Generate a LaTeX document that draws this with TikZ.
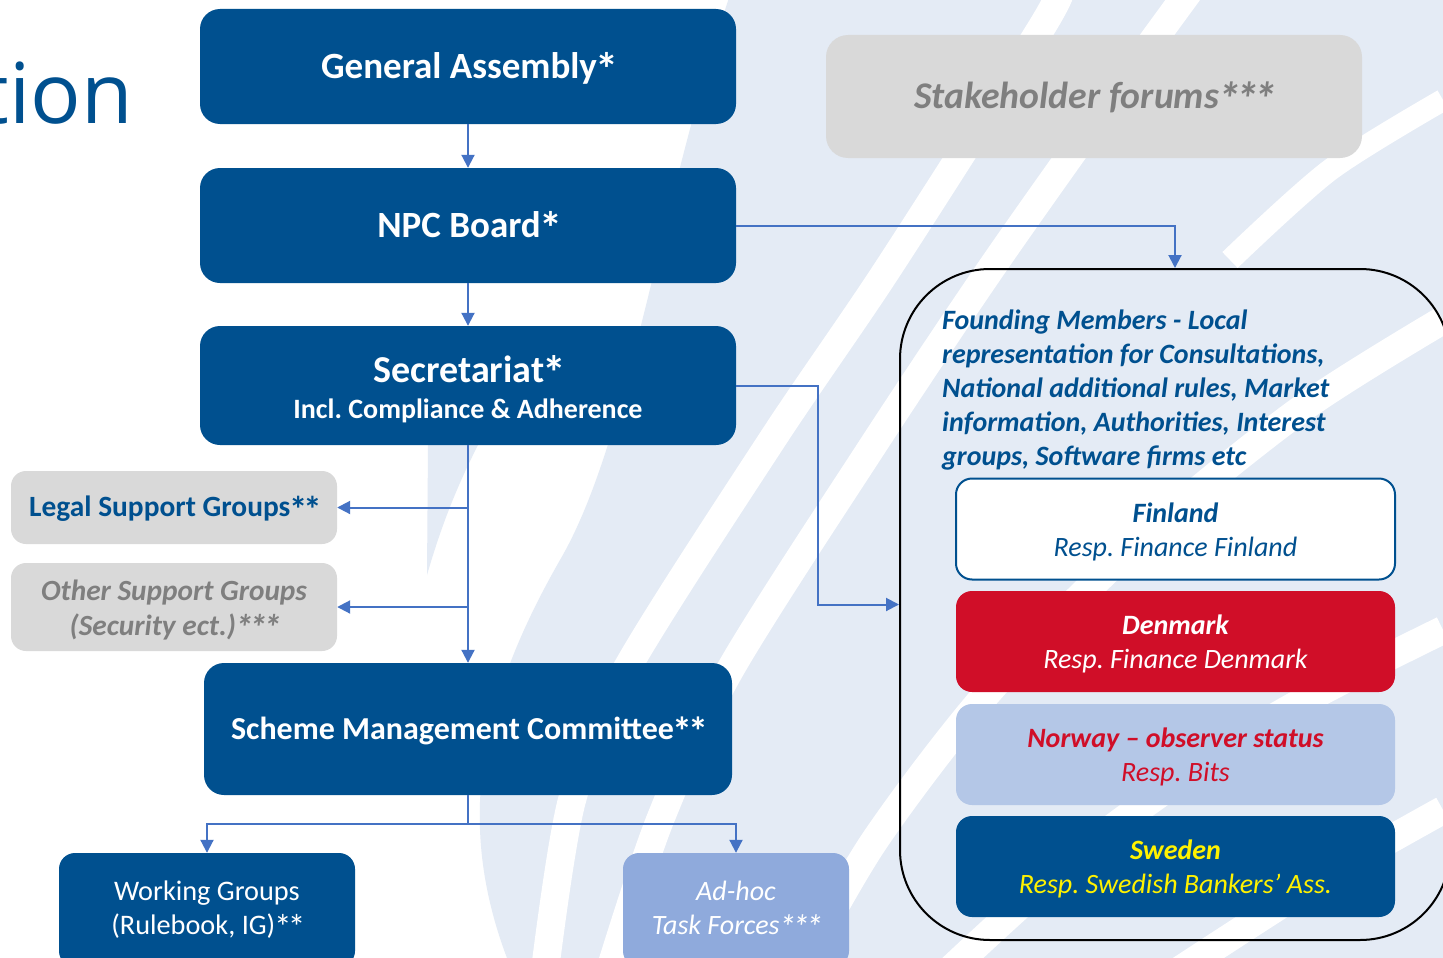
\documentclass[tikz,border=0pt]{standalone}
\usepackage{fontspec}
\usepackage{graphicx}
\setmainfont{Carlito}
\newfontfamily\headfont{Open Sans}
\usetikzlibrary{arrows.meta}
\frenchspacing

\definecolor{npcblue}{RGB}{0,80,143}
\definecolor{linkblue}{RGB}{68,114,196}
\definecolor{boxgrey}{RGB}{217,217,217}
\definecolor{textgrey}{RGB}{127,127,127}
\definecolor{dkred}{RGB}{208,14,40}
\definecolor{paleblue}{RGB}{180,199,231}
\definecolor{adhocblue}{RGB}{143,170,220}
\definecolor{bgblue}{RGB}{228,235,245}

\def \titleSize {\fontsize{37}{40}\selectfont}
\def \smallSize {\fontsize{28}{34}\selectfont}
\newcommand{\fnstar}{\kern-0.04em\raisebox{-0.2em}{\scalebox{1.25}{*}}\kern-0.1em}

\tikzset{
  mainbox/.style={rounded corners=20, fill=npcblue, text=white, inner sep=0,
    minimum width=536, minimum height=115, align=center, font=\bfseries\titleSize,
    text height=23.4, text depth=0},
  greybox/.style={rounded corners=15, fill=boxgrey, inner sep=0,
    minimum width=326, align=center, font=\bfseries\fontsize{29.4}{35}\selectfont},
  country/.style={rounded corners=16, inner sep=0, minimum width=439,
    minimum height=101, align=center, font=\itshape\smallSize,
    text height=54, text depth=0},
  subbox/.style={rounded corners=16, inner sep=0, minimum width=296,
    minimum height=114, align=center, text=white, font=\fontsize{28.3}{34}\selectfont,
    text height=48, text depth=0},
  link/.style={draw=linkblue, line width=2, -{Triangle[length=13,width=13]}},
  stripe/.style={white, line width=28},
}

\begin{document}
\begin{tikzpicture}[x=1pt,y=-1pt]
  \clip (0,0) rectangle (1443,958);
  \fill[white] (0,0) rectangle (1443,958);

  \fill[bgblue] (507,958) .. controls (455,820) and (480,700) .. (560,560)
    .. controls (630,440) and (660,200) .. (730,-5) -- (1443,-5) -- (1443,958) -- cycle;
  \fill[bgblue] (427,575) -- (428,445) -- (478,445) .. controls (455,490) and (440,530) .. (427,575);
  \draw[stripe] plot[smooth] coordinates {(545,970) (572,800) (626,670) (772,440) (887,270) (1040,30) (1060,-10)};
  \draw[stripe] plot[smooth] coordinates {(610,970) (660,820) (730,670) (870,450) (990,270) (1110,100) (1190,-10)};
  \draw[stripe] plot[smooth] coordinates {(800,970) (875,840) (990,690) (1140,540) (1300,410) (1443,320)};
  \draw[stripe] plot[smooth] coordinates {(950,970) (1090,845) (1270,720) (1443,630)};
  \draw[stripe] plot[smooth] coordinates {(1180,970) (1320,880) (1443,810)};
  \draw[stripe, line width=22] plot[smooth] coordinates {(1230,260) (1330,170) (1443,100)};

  \node[anchor=base east, inner sep=0, text=npcblue, font=\headfont\fontsize{84}{90}\selectfont] (title) at (133,123) {tion};

  \node[mainbox] (ga) at (468,66.5) {General Assembly\fnstar};
  \node[mainbox] (npc) at (468,225.5) {NPC Board\fnstar};
  \node[mainbox, minimum height=119, font=\bfseries\fontsize{38}{36}\selectfont, text height=65, text depth=0]
    (sec) at (468,385.5) {Secretariat\fnstar\\{\fontsize{28}{36}\selectfont Incl. Compliance \& Adherence}};
  \node[mainbox, minimum width=528, minimum height=132, font=\bfseries\fontsize{32}{38}\selectfont, text height=20.2]
    (smc) at (468,729) {Scheme Management Committee\fnstar\fnstar};

  \node[greybox, minimum width=536, minimum height=123, rounded corners=22, text=textgrey,
    font=\bfseries\itshape\fontsize{37.7}{40}\selectfont, text height=23.8, text depth=0]
    (stake) at (1094,96.5) {Stakeholder forums\fnstar\fnstar\fnstar};
  \node[greybox, minimum height=73, text=npcblue, text height=18.6, text depth=0]
    (legal) at (174,507.5) {Legal Support Groups\fnstar\fnstar};
  \node[greybox, minimum height=88, text=textgrey, font=\bfseries\itshape\fontsize{29.3}{35}\selectfont,
    text height=56, text depth=0] (other) at (174,607) {Other Support Groups\\(Security ect.)\fnstar\fnstar\fnstar};

  \node[subbox, fill=npcblue] (wg) at (207,910) {Working Groups\\(Rulebook, IG)\fnstar\fnstar};
  \node[subbox, fill=adhocblue, minimum width=226, font=\itshape\fontsize{28}{34}\selectfont]
    (adhoc) at (736,910) {Ad-hoc\\Task Forces\fnstar\fnstar\fnstar};

  \node[draw=black, line width=2, rounded corners=90, minimum width=550, minimum height=671, inner sep=0] (found) at (1175,604.5) {};
  \node[anchor=base west, inner sep=0, align=left, text=npcblue, font=\bfseries\itshape\smallSize] (foundtxt) at (942,465)
    {Founding Members - Local\\representation for Consultations,\\National additional rules, Market\\information, Authorities, Interest\\groups, Software firms etc};

  \node[country, fill=white, draw=npcblue, line width=2, text=npcblue] (fin) at (1175.5,529) {\textbf{Finland}\\Resp. Finance Finland};
  \node[country, fill=dkred, text=white] (den) at (1175.5,641.5) {\textbf{Denmark}\\Resp. Finance Denmark};
  \node[country, fill=paleblue, text=dkred] (nor) at (1175.5,754.5) {\textbf{Norway – observer status}\\Resp. Bits};
  \node[country, fill=npcblue, text=yellow] (swe) at (1175.5,866.5) {\textbf{Sweden}\\Resp. Swedish Bankers’ Ass.};

  \draw[link] (ga) -- (npc);
  \draw[link] (npc) -- (sec);
  \draw[link] (npc.east) -| (found.north);
  \draw[link] (sec.east) -- ++(82,0) |- (found.west);
  \draw[link] (sec) -- (smc);
  \draw[link] (sec.south |- legal.east) -- (legal.east);
  \draw[link] (sec.south |- other.east) -- (other.east);
  \draw[draw=linkblue, line width=2] (smc.south) -- ++(0,29) coordinate (split);
  \draw[link] (split) -| (wg.north);
  \draw[link] (split) -| (adhoc.north);
\end{tikzpicture}
\end{document}
